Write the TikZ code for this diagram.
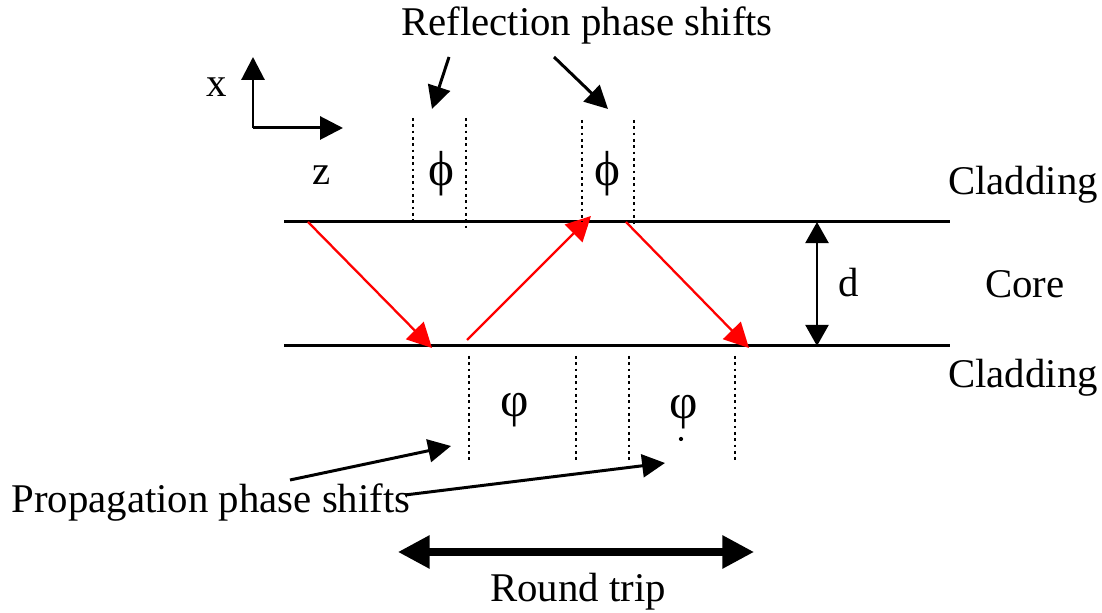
\documentclass[tikz,border=0pt]{standalone}
\usepackage{fontspec}
\setmainfont{Liberation Serif}
\usetikzlibrary{arrows.meta}

\begin{document}
\begin{tikzpicture}[
  x=0.01cm, y=-0.01cm,
  font=\fontsize{11.6}{14}\selectfont,
  % one pixel of the sketch is one unit; y runs downwards
  lbl/.style      = {inner sep=0pt, anchor=base},
  phase/.style    = {inner sep=0pt, font=\fontsize{14}{16}\selectfont},
  interface/.style= {line width=0.85pt},
  ray/.style      = {draw=red, line width=0.65pt,
                     -{Triangle[length=7pt, width=7pt]}},
  pointer/.style  = {line width=0.85pt, -{Triangle[length=6.5pt, width=6.5pt]}},
  span/.style     = {line width=0.85pt,
                     {Triangle[length=6pt, width=6.5pt]}-{Triangle[length=6pt, width=6.5pt]}},
  trip/.style     = {line width=2pt,
                     {Triangle[length=9pt, width=9pt]}-{Triangle[length=9pt, width=9pt]}},
  marker/.style   = {line width=0.8pt, dash pattern=on 0.8pt off 1pt},
]
\useasboundingbox (0,0) rectangle (1102,613);

% ============================ the slab: two interfaces ======================
\coordinate (topl) at (284,222);  \coordinate (topr) at (950,222);
\coordinate (botl) at (284,346);  \coordinate (botr) at (950,346);
\draw[interface] (topl) -- (topr);
\draw[interface] (botl) -- (botr);

\node[lbl] (cladtop) at (1023,195) {Cladding};
\node[lbl] (core)    at (1025,298) {Core};
\node[lbl] (cladbot) at (1023,388) {Cladding};

% thickness of the core
\coordinate (dtop) at (817,222);
\coordinate (dbot) at (817,346);
\draw[span] (dtop) -- (dbot);
\node[lbl] (dlbl) at (849,297) {d};

% ============================ the zig-zag ray ===============================
\coordinate (r1a) at (308,222); \coordinate (r1b) at (432,348);
\coordinate (r2a) at (467,340); \coordinate (r2b) at (591,216);
\coordinate (r3a) at (626,222); \coordinate (r3b) at (749,348);
\draw[ray] (r1a) -- (r1b);
\draw[ray] (r2a) -- (r2b);
\draw[ray] (r3a) -- (r3b);

% ============================ reflection phase, above =======================
\foreach \xx/\ya/\yb in {413/118/222, 466/118/231, 582/120/222, 634/120/225}
  \draw[marker] (\xx,\ya) -- (\xx,\yb);
\node[phase] (phione) at (441,174) {ϕ};
\node[phase] (phitwo) at (607,174) {ϕ};

\node[lbl] (refl) at (587,36) {Reflection phase shifts};
\coordinate (reflA) at (449,57);  \coordinate (reflAtip) at (432,109);
\coordinate (reflB) at (554,57);  \coordinate (reflBtip) at (608,109);
\draw[pointer] (reflA) -- (reflAtip);
\draw[pointer] (reflB) -- (reflBtip);

% ============================ propagation phase, below ======================
\foreach \xx in {469, 576, 629, 735}
  \draw[marker] (\xx,356) -- (\xx,460);
\node[phase] (vphione) at (515,410) {φ};
\node[phase] (vphitwo) at (684,412) {φ};
\fill (681,439) circle (0.6pt);

\node[lbl] (propag) at (211,513) {Propagation phase shifts};
\coordinate (propA) at (290,480);  \coordinate (propAtip) at (451,446);
\coordinate (propB) at (405,495);  \coordinate (propBtip) at (665,463);
\draw[pointer] (propA) -- (propAtip);
\draw[pointer] (propB) -- (propBtip);

% ============================ round trip ====================================
\coordinate (tripl) at (398,552);
\coordinate (tripr) at (754,552);
\draw[trip] (tripl) -- (tripr);
\node[lbl] (triplbl) at (578,602) {Round trip};

% ============================ axes ==========================================
\coordinate (origin) at (253,128);
\coordinate (xtip) at (253,57);
\coordinate (ztip) at (343,128);
\draw[pointer] (origin) -- (xtip);
\draw[pointer] (origin) -- (ztip);
\node[lbl] (xlbl) at (217,97) {x};
\node[lbl] (zlbl) at (322,185) {z};

\end{tikzpicture}
\end{document}
